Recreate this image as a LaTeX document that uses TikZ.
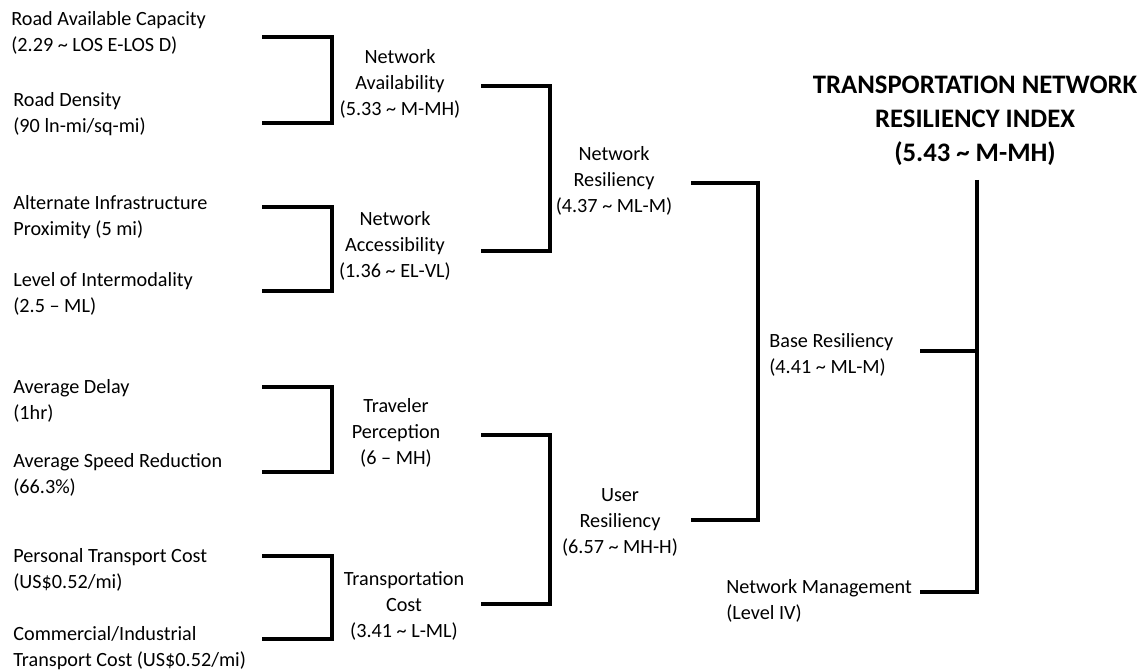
\documentclass[tikz,border=0pt]{standalone}
\usepackage{fontspec}
\setmainfont{Carlito}
\begin{document}
\begin{tikzpicture}[x=0.02cm,y=-0.02cm,font=\fontsize{11.5}{14.8}\selectfont,
  line cap=butt,line join=miter]
\tikzset{leaf/.style={anchor=west,align=left,inner sep=0pt},
  mid/.style={align=center,inner sep=1pt},
  link/.style={line width=1.9pt}}
\useasboundingbox (0,0) rectangle (1145,671);
% inputs
\node[leaf] (rac) at (11,33) {Road Available Capacity\\(2.29 \textasciitilde\ LOS E-LOS D)};
\node[leaf] (rd) at (13,114) {Road Density\\(90 ln-mi/sq-mi)};
\node[leaf] (aip) at (13,217) {Alternate Infrastructure\\Proximity (5 mi)};
\node[leaf] (loi) at (13,294) {Level of Intermodality\\(2.5 -- ML)};
\node[leaf] (ad) at (13,401) {Average Delay\\(1hr)};
\node[leaf] (asr) at (13,475) {Average Speed Reduction\\(66.3\%)};
\node[leaf] (ptc) at (13,570) {Personal Transport Cost\\(US\$0.52/mi)};
\node[leaf] (cit) at (13,648) {Commercial/Industrial\\Transport Cost (US\$0.52/mi)};
% first level
\node[mid] (navail) at (400,84) {Network\\Availability\\(5.33 \textasciitilde\ M-MH)};
\node[mid] (naccess) at (395,246) {Network\\Accessibility\\(1.36 \textasciitilde\ EL-VL)};
\node[mid] (tp) at (396,433) {Traveler\\Perception\\(6 -- MH)};
\node[mid] (tc) at (404,606) {Transportation\\Cost\\(3.41 \textasciitilde\ L-ML)};
% second level
\node[mid] (nres) at (614,181) {Network\\Resiliency\\(4.37 \textasciitilde\ ML-M)};
\node[mid] (ures) at (620,522) {User\\Resiliency\\(6.57 \textasciitilde\ MH-H)};
\node[leaf] (bres) at (769,355) {Base Resiliency\\(4.41 \textasciitilde\ ML-M)};
\node[leaf] (nman) at (726,601) {Network Management\\(Level IV)};
\node[mid,font=\fontsize{15.2}{19.3}\selectfont\bfseries] (tnri) at (975,121)
  {TRANSPORTATION NETWORK\\RESILIENCY INDEX\\(5.43 \textasciitilde\ M-MH)};
% bracket ends
\coordinate (rac-e) at (262,37);
\coordinate (rd-e) at (262,123);
\coordinate (aip-e) at (262,207);
\coordinate (loi-e) at (262,291);
\coordinate (ad-e) at (262,387);
\coordinate (asr-e) at (262,472);
\coordinate (ptc-e) at (262,556);
\coordinate (cit-e) at (262,639);
\coordinate (navail-e) at (481,86);
\coordinate (naccess-e) at (481,251);
\coordinate (tp-e) at (481,435);
\coordinate (tc-e) at (481,604);
\coordinate (nres-e) at (691,183);
\coordinate (ures-e) at (691,520);
\coordinate (bres-e) at (920,351);
\coordinate (nman-e) at (920,592);
\coordinate (top) at (977,180);
% brackets
\draw[link] (rac-e) -| (332,80) |- (rd-e);
\draw[link] (aip-e) -| (332,250) |- (loi-e);
\draw[link] (ad-e) -| (332,430) |- (asr-e);
\draw[link] (ptc-e) -| (332,600) |- (cit-e);
\draw[link] (navail-e) -| (550,170) |- (naccess-e);
\draw[link] (tp-e) -| (550,520) |- (tc-e);
\draw[link] (nres-e) -| (758,350) |- (ures-e);
\draw[link] (top) |- (nman-e);
\draw[link] (bres-e) -- (bres-e -| top);
\end{tikzpicture}
\end{document}
